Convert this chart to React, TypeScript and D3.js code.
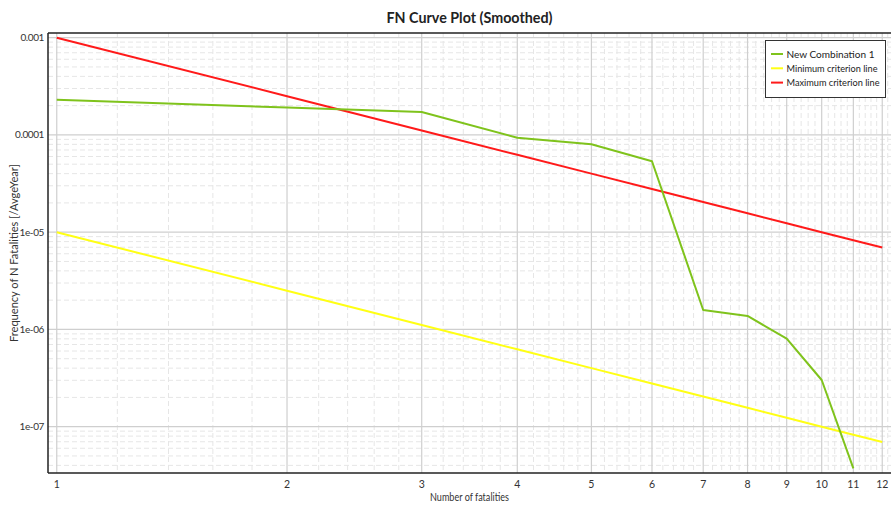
import React from "react";
import * as d3 from "d3";

const fatalities = [1, 2, 3, 4, 5, 6, 7, 8, 9, 10, 11];
const combinationValues = [2.3e-4, 1.91e-4, 1.72e-4, 9.37e-5, 8.02e-5, 5.36e-5, 1.585e-6, 1.375e-6, 8.04e-7, 3.02e-7, 3.73e-8];
const criterionN = [1, 2, 3, 4, 5, 6, 7, 8, 9, 10, 11, 12];
const minCriterion = [1e-5, 2.5e-6, 1.111e-6, 6.25e-7, 4e-7, 2.778e-7, 2.041e-7, 1.5625e-7, 1.235e-7, 1e-7, 8.264e-8, 6.944e-8];
const maxCriterion = [1e-3, 2.5e-4, 1.111e-4, 6.25e-5, 4e-5, 2.778e-5, 2.041e-5, 1.5625e-5, 1.235e-5, 1e-5, 8.264e-6, 6.944e-6];
const xTicks = [1, 2, 3, 4, 5, 6, 7, 8, 9, 10, 11, 12];
const yTicks = [1e-3, 1e-4, 1e-5, 1e-6, 1e-7];
const yTickLabels = ["0.001", "0.0001", "1e-05", "1e-06", "1e-07"];
const seriesNames = ["New Combination 1", "Minimum criterion line", "Maximum criterion line"];
const seriesColors = ["#7fc31c", "#ffff14", "#ff1a1a"];
const legendTextWidths = [88, 91, 93];

const W = 892, H = 507;
const L = 48, R = 891, T = 33, B = 473;
const FONT = "Lato, 'Noto Sans', sans-serif";

export default function App() {
  const x = d3.scaleLog().domain([0.974, 12.32]).range([L, R]);
  const y = d3.scaleLog().domain([3.34e-8, 1.117e-3]).range([B, T]);

  const minorX: number[] = [];
  for (let i = 1; i < 13; i++) {
    for (let k = 1; k < 5; k++) {
      const v = i + k * 0.2;
      if (x(v) < R) minorX.push(v);
    }
  }
  const minorY: number[] = [];
  for (let e = -8; e <= -3; e++) {
    for (let k = 2; k <= 9; k++) {
      const v = k * Math.pow(10, e);
      if (y(v) > T && y(v) < B) minorY.push(v);
    }
  }

  const line = d3.line<[number, number]>().x(d => x(d[0])).y(d => y(d[1]));
  const greenData = fatalities.map((n, i) => [n, combinationValues[i]] as [number, number]);
  const yellowData = criterionN.map((n, i) => [n, minCriterion[i]] as [number, number]);
  const redData = criterionN.map((n, i) => [n, maxCriterion[i]] as [number, number]);

  return (
    <svg width={W} height={H} style={{ display: "block", position: "absolute", left: 0, top: 0, background: "#fff" }} fontFamily={FONT}>
      <defs>
        <clipPath id="plot">
          <rect x={L} y={T} width={R - L} height={B - T} />
        </clipPath>
      </defs>
      <rect x={0} y={0} width={W} height={H} fill="#fff" />
      <g>
        {minorX.map((v, i) => (
          <line key={"mx" + i} x1={x(v)} x2={x(v)} y1={T} y2={B} stroke="#e6e6e6" strokeWidth={1} strokeDasharray="5,3" />
        ))}
        {minorY.map((v, i) => (
          <line key={"my" + i} x1={L} x2={R} y1={y(v)} y2={y(v)} stroke="#e6e6e6" strokeWidth={1} strokeDasharray="5,3" />
        ))}
        {xTicks.map((v, i) => (
          <line key={"gx" + i} x1={x(v)} x2={x(v)} y1={T} y2={B} stroke="#cfcfcf" strokeWidth={1.2} />
        ))}
        {yTicks.map((v, i) => (
          <line key={"gy" + i} x1={L} x2={R} y1={y(v)} y2={y(v)} stroke="#cfcfcf" strokeWidth={1.2} />
        ))}
      </g>
      <g clipPath="url(#plot)" fill="none" strokeWidth={2} strokeLinejoin="round">
        <path d={line(redData) || ""} stroke={seriesColors[2]} />
        <path d={line(yellowData) || ""} stroke={seriesColors[1]} />
        <path d={line(greenData) || ""} stroke={seriesColors[0]} />
      </g>
      <line x1={L} x2={L} y1={T} y2={B} stroke="#222" strokeWidth={1.5} />
      <line x1={L} x2={R} y1={T} y2={T} stroke="#222" strokeWidth={1.5} />
      <line x1={L} x2={R} y1={B} y2={B} stroke="#222" strokeWidth={1.5} />
      {yTicks.map((v, i) => (
        <text key={"yl" + i} x={L - 4} y={y(v)} dy="0.35em" textAnchor="end" fontSize={10} fill="#333" letterSpacing={-0.4}>
          {yTickLabels[i]}
        </text>
      ))}
      {xTicks.map((v, i) => (
        <text key={"xl" + i} x={x(v)} y={488} textAnchor="middle" fontSize={10.5} fill="#333">
          {String(v)}
        </text>
      ))}
      <text x={(L + R) / 2} y={501} textAnchor="middle" fontSize={10.5} fill="#333" textLength={79} lengthAdjust="spacingAndGlyphs">Number of fatalities</text>
      <text transform={`translate(18, ${(T + B) / 2}) rotate(-90)`} textAnchor="middle" fontSize={10.5} fill="#333" textLength={178} lengthAdjust="spacingAndGlyphs">
        Frequency of N Fatalities [/AvgeYear]
      </text>
      <text x={(L + R) / 2} y={23} textAnchor="middle" fontSize={15} fontWeight="bold" fill="#222" textLength={166} lengthAdjust="spacingAndGlyphs">FN Curve Plot (Smoothed)</text>
      <g>
        <rect x={765.5} y={40.5} width={120} height={57} fill="#fff" stroke="#333" strokeWidth={1} />
        {seriesNames.map((name, i) => (
          <g key={"lg" + i} transform={`translate(771, ${54 + i * 14.3})`}>
            <line x1={0} x2={12} y1={0} y2={0} stroke={seriesColors[i]} strokeWidth={2} />
            <text x={15.5} y={0} dy="0.35em" fontSize={10} fill="#222" textLength={legendTextWidths[i]} lengthAdjust="spacingAndGlyphs">{name}</text>
          </g>
        ))}
      </g>
    </svg>
  );
}
